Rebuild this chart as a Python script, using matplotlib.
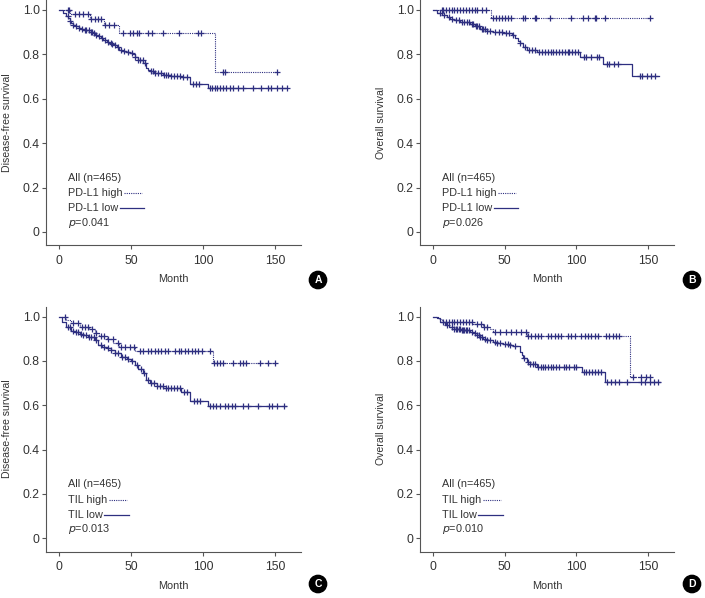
import numpy as np
import matplotlib
matplotlib.use("Agg")
import matplotlib.pyplot as plt

plt.rcParams['font.family'] = ['Liberation Sans', 'DejaVu Sans']

NAVY = '#2e2f80'
TXT = '#333333'
SPINE = '#555555'

# ---------------- data ----------------
A_high_t = [0, 8, 21.5, 31, 42, 108]
A_high_s = [1.0, 0.98, 0.961, 0.932, 0.895, 0.72]
A_high_end = 152
A_high_c = [6, 7, 11, 14, 17, 20, 22.5, 25, 27, 29.4, 31.8, 35, 38, 44.5, 49, 51.5, 54, 55.6,
            62, 64.5, 72, 83, 96.7, 98.4, 113.6, 115, 151]
A_low_t = [0, 3, 5, 6.3, 8, 8.6, 10, 12, 14, 15.5, 18, 20, 22, 23.6, 25, 27, 29, 30.6, 33, 35, 37,
           38.7, 40, 42, 44, 46.8, 49, 51.5, 52.6, 55, 58.4, 60.7, 62, 63, 66, 72.3, 78, 85, 91, 103.6]
A_low_s = [1.0, 0.985, 0.975, 0.964, 0.952, 0.94, 0.932, 0.926, 0.92, 0.914, 0.911, 0.908, 0.902,
           0.896, 0.889, 0.881, 0.872, 0.863, 0.857, 0.851, 0.846, 0.841, 0.832, 0.821, 0.815, 0.809,
           0.806, 0.803, 0.788, 0.773, 0.761, 0.739, 0.731, 0.724, 0.716, 0.709, 0.704, 0.698, 0.668, 0.649]
A_low_end = 158
A_low_c = [6, 8, 10, 12, 14, 16, 18, 19, 21, 22, 23, 24, 26, 28, 30, 32, 34, 36, 37, 39, 41, 43, 45,
           48, 51, 53, 55, 56, 58, 60, 64, 65, 67, 69, 71, 73, 74, 76, 78, 80, 82, 84, 86, 89, 93, 95,
           97, 105, 106, 108, 110, 112, 114, 116, 119, 121, 124, 128, 135, 140, 145, 147, 151, 155, 158]

B_high_t = [0, 40.8]
B_high_s = [1.0, 0.962]
B_high_end = 151
B_high_c = [6, 7, 9, 11, 13, 15, 17, 19, 21, 23, 25, 27, 29, 31, 34, 37, 42, 44.3, 46, 48.2, 50,
            52.4, 54.7, 62.8, 64, 71, 72, 81.4, 96.5, 104.6, 108, 112.7, 113.8, 119.7, 151]
B_low_t = [0, 2.8, 6.3, 9.7, 12, 14.4, 19, 26, 29.4, 33, 37.6, 42, 49, 55, 57, 59, 60.7, 63, 65.4,
           72.3, 102.5, 118.7, 138.4]
B_low_s = [1.0, 0.986, 0.979, 0.968, 0.96, 0.953, 0.946, 0.937, 0.926, 0.916, 0.907, 0.899, 0.895,
           0.889, 0.874, 0.862, 0.851, 0.833, 0.818, 0.809, 0.788, 0.758, 0.701]
B_low_end = 157.7
B_low_c = [5, 8, 11, 13, 16, 18, 20, 22, 24, 25, 27, 28, 30, 31, 32, 34, 35, 36, 38, 40, 43, 46, 48,
           51, 53, 56, 61, 64, 67, 69, 71, 74, 76, 78, 80, 82, 84, 86, 88, 90, 92, 94, 95, 97, 99, 101,
           105, 107, 110, 114, 116, 121, 123, 126, 129, 144, 146, 149, 152, 155]

C_high_t = [0, 5, 8.6, 14.4, 21, 25, 28, 33, 37.6, 42, 52.6, 107]
C_high_s = [1.0, 0.985, 0.97, 0.955, 0.943, 0.925, 0.913, 0.898, 0.883, 0.865, 0.847, 0.792]
C_high_end = 151
C_high_c = [4, 10, 13, 16, 18, 20, 23, 26, 29, 31, 34, 37.5, 41, 43.4, 45.7, 49, 52, 56, 58.5, 62, 64,
            66.5, 69, 71, 73.5, 76, 80.5, 83, 85, 87.5, 89.8, 92, 94.4, 96.7, 99, 104.8, 107.5, 109.5,
            112, 114, 121, 125.7, 128, 130, 139.6, 145.4, 150]
C_low_t = [0, 2, 5, 8.6, 11, 14.4, 17, 20, 25, 27, 30, 33, 36, 38.7, 43, 47, 50, 52.6, 55, 58.4, 60.7,
           63, 67.7, 72.3, 85, 91, 103.6]
C_low_s = [1.0, 0.975, 0.955, 0.937, 0.93, 0.922, 0.916, 0.91, 0.895, 0.872, 0.865, 0.857, 0.848,
           0.838, 0.817, 0.809, 0.802, 0.78, 0.762, 0.747, 0.714, 0.699, 0.687, 0.68, 0.662, 0.621, 0.597]
C_low_end = 157.7
C_low_c = [6, 8, 10, 12, 13, 15, 17, 19, 21, 22, 24, 26, 29, 31, 34, 36, 39, 41, 44, 46, 48, 51, 54,
           57, 59, 62, 64, 66, 68, 70, 72, 74, 76, 78, 80, 82, 84, 87, 89, 94, 96, 98, 105, 107, 109,
           112, 115, 117, 120, 122, 128, 131, 138, 146, 148, 151, 156]

D_high_t = [0, 4, 6.3, 28, 35, 40, 42, 65.4, 137.3]
D_high_s = [1.0, 0.988, 0.977, 0.967, 0.955, 0.943, 0.932, 0.914, 0.729]
D_high_end = 152
D_high_c = [9, 11, 13, 15, 17, 19, 21, 23, 25, 27, 31, 33.5, 35.8, 38, 43, 46.6, 51, 54.7, 58, 61.7,
            65, 66.3, 68.6, 71, 73.3, 75.6, 80, 82.5, 85, 87, 89.5, 94, 96.5, 98.8, 103.4, 105.8, 108,
            110.4, 112.7, 115, 120.8, 123, 125.5, 127.8, 130, 139.4, 145, 148.6, 151]
D_low_t = [0, 2.8, 5, 8.6, 11, 14.4, 20, 26, 28, 30.6, 33, 35, 38, 42, 45, 49, 53, 56, 60.7, 62, 63,
           65.4, 67.7, 72.3, 103.6, 119.8]
D_low_s = [1.0, 0.992, 0.977, 0.962, 0.955, 0.943, 0.938, 0.932, 0.925, 0.917, 0.908, 0.898, 0.893,
           0.887, 0.882, 0.877, 0.872, 0.868, 0.842, 0.825, 0.812, 0.797, 0.785, 0.774, 0.752, 0.707]
D_low_end = 158
D_low_c = [7, 10, 13, 15, 16, 17, 18, 19, 20, 21, 22, 23, 24, 25, 27, 29, 31, 32, 33, 34, 36, 38, 40,
           43, 45, 47, 50, 52, 54, 57, 63.5, 66, 68, 70, 71, 73, 75, 77, 78, 80, 82, 84, 86, 88, 91,
           93, 95, 98, 100, 105, 107, 109, 111, 113, 115, 117, 121, 124, 127, 130, 135, 145, 148, 151,
           154, 157]

x_ticks = [0, 50, 100, 150]
y_ticks = [0, 0.2, 0.4, 0.6, 0.8, 1.0]
y_ticklabels = ['0', '0.2', '0.4', '0.6', '0.8', '1.0']

panels = [
    dict(letter='A', ylabel='Disease-free survival', hi='PD-L1 high', lo='PD-L1 low', p='0.041',
         high=(A_high_t, A_high_s, A_high_end, A_high_c), low=(A_low_t, A_low_s, A_low_end, A_low_c)),
    dict(letter='B', ylabel='Overall survival', hi='PD-L1 high', lo='PD-L1 low', p='0.026',
         high=(B_high_t, B_high_s, B_high_end, B_high_c), low=(B_low_t, B_low_s, B_low_end, B_low_c)),
    dict(letter='C', ylabel='Disease-free survival', hi='TIL high', lo='TIL low', p='0.013',
         high=(C_high_t, C_high_s, C_high_end, C_high_c), low=(C_low_t, C_low_s, C_low_end, C_low_c)),
    dict(letter='D', ylabel='Overall survival', hi='TIL high', lo='TIL low', p='0.010',
         high=(D_high_t, D_high_s, D_high_end, D_high_c), low=(D_low_t, D_low_s, D_low_end, D_low_c)),
]

W, H = 705, 598
fig = plt.figure(figsize=(W / 100, H / 100), dpi=100)

# axes rectangles in pixels: left, top, right, bottom
rects = [(46, 0, 301, 245.3), (420, 0, 674, 245.3), (46, 306.7, 301, 551.6), (420, 306.7, 674, 551.6)]
letter_pos = [(318, 280), (692, 280), (318, 584), (692, 584)]


def step_value(t, s, x):
    i = np.searchsorted(np.asarray(t), x, side='right') - 1
    return np.asarray(s)[i]


pending = []
for P, (l, t, r, b), (lx, ly) in zip(panels, rects, letter_pos):
    ax = fig.add_axes([l / W, 1 - b / H, (r - l) / W, (b - t) / H])
    ax.set_xlim(-9, 168)
    ax.set_ylim(-0.06, 1.045)
    for key, ls, lw in (('high', (0, (1, 1)), 0.8), ('low', '-', 0.9)):
        tt, ss, end, cens = P[key]
        xs = list(tt) + [end]
        ys = list(ss) + [ss[-1]]
        ax.step(xs, ys, where='post', color=NAVY, lw=lw, linestyle=ls)
        cy = [step_value(tt, ss, c) for c in cens]
        ax.plot(cens, cy, linestyle='none', marker='+', color=NAVY, markersize=4.5, mew=0.9)

    # inline legend
    ytxt = [0.243, 0.175, 0.106, 0.042]
    fs = 7.8
    ax.text(6, ytxt[0], 'All (n=465)', fontsize=fs, color=TXT, va='center', ha='left')
    th = ax.text(6, ytxt[1], P['hi'], fontsize=fs, color=TXT, va='center', ha='left')
    tl = ax.text(6, ytxt[2], P['lo'], fontsize=fs, color=TXT, va='center', ha='left')
    ax.text(6, ytxt[3], r'$p$' + '=' + P['p'], fontsize=fs, color=TXT, va='center', ha='left')
    pending.append((ax, th, ytxt[1], (0, (1, 1)), 0.8, 12.5))
    pending.append((ax, tl, ytxt[2], '-', 0.9, 17))

    for s in ('top', 'right'):
        ax.spines[s].set_visible(False)
    for s in ('left', 'bottom'):
        ax.spines[s].set_color(SPINE)
        ax.spines[s].set_linewidth(0.8)
    ax.set_xticks(x_ticks)
    ax.set_yticks(y_ticks)
    ax.set_yticklabels(y_ticklabels)
    ax.tick_params(axis='both', direction='out', length=3, width=0.8, color=SPINE,
                   labelcolor=TXT, labelsize=8.8)
    ax.tick_params(axis='y', pad=1.5)
    ax.tick_params(axis='x', pad=4)
    ax.set_xlabel('Month', fontsize=7.8, color=TXT)
    ax.xaxis.set_label_coords(0.5, -29 / (b - t))
    ax.set_ylabel(P['ylabel'], fontsize=7.6, color=TXT)
    ax.yaxis.set_label_coords(-(l - (12 if l < 100 else 386)) / (r - l), 0.5)

    fig.text(lx / W, 1 - ly / H, P['letter'], color='white', fontsize=7.5, fontweight='bold',
             ha='center', va='center',
             bbox=dict(boxstyle='circle,pad=0.35', fc='black', ec='black'))

# legend sample lines placed just after their label text
fig.canvas.draw()
renderer = fig.canvas.get_renderer()
for ax, txt, yv, ls, lw, length in pending:
    bb = txt.get_window_extent(renderer)
    x0 = ax.transData.inverted().transform((bb.x1 + 2, 0))[0]
    ax.plot([x0, x0 + length], [yv, yv], color=NAVY, lw=lw, linestyle=ls)

fig.savefig('out.png', dpi=100)
